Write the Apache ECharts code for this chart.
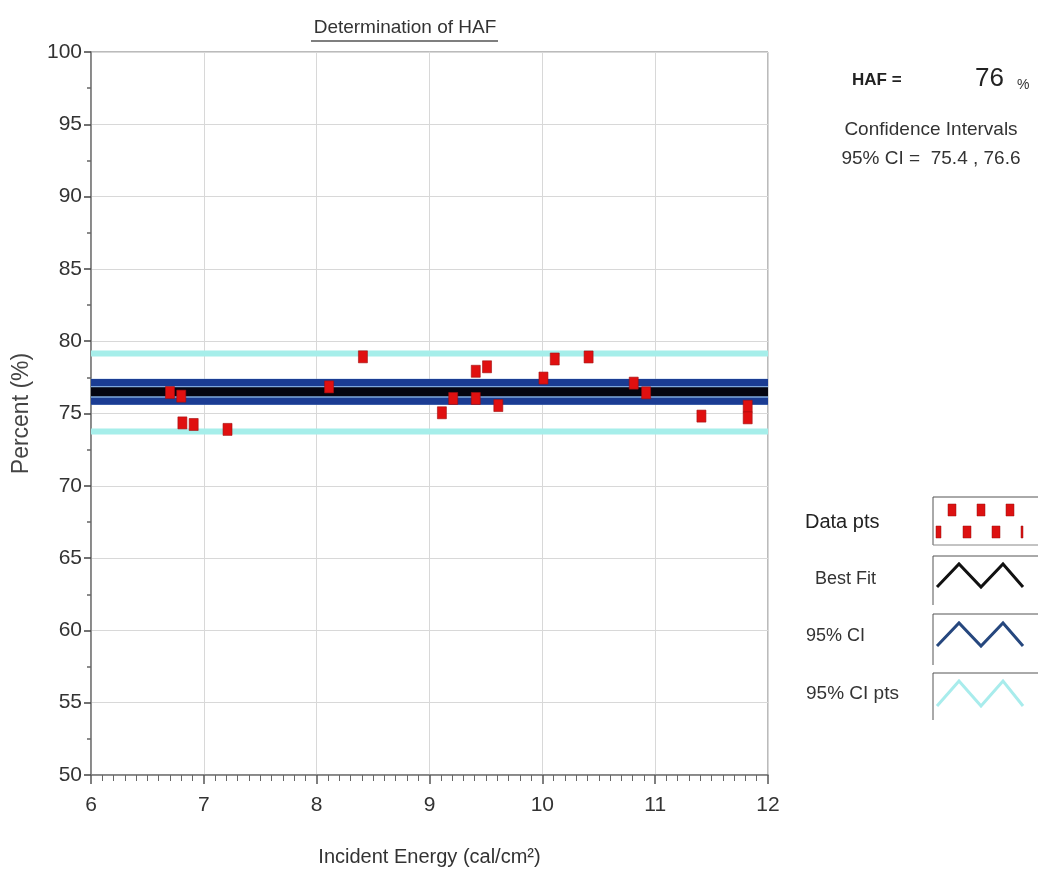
<!DOCTYPE html>
<html>
<head>
<meta charset="utf-8">
<script src="https://cdn.jsdelivr.net/npm/echarts@6/dist/echarts.min.js"></script>
<style>html,body{margin:0;padding:0;background:#fff}#c{width:1038px;height:872px}</style>
</head>
<body>
<div id="c"></div>
<script>
// ---- data ----
const energy  = [6.70, 6.80, 6.81, 6.91, 7.21, 8.11, 8.41, 9.11, 9.21, 9.41, 9.41, 9.51, 9.61, 10.01, 10.11, 10.41, 10.81, 10.92, 11.41, 11.82, 11.82];
const percent = [76.45, 76.2, 74.35, 74.24, 73.9, 76.84, 78.92, 75.05, 76.04, 77.92, 76.04, 78.23, 75.55, 77.45, 78.77, 78.91, 77.1, 76.43, 74.82, 75.5, 74.7];
const bestFit = 76.5;
const ciLower = 75.85, ciUpper = 77.15;
const ciPtsLower = 73.75, ciPtsUpper = 79.15;
const xRange = [6, 12];
const yRange = [50, 100];
const xTicks = [6, 7, 8, 9, 10, 11, 12];
const yTicks = [50, 55, 60, 65, 70, 75, 80, 85, 90, 95, 100];
const titleText = 'Determination of HAF';
const xName = 'Incident Energy (cal/cm\u00B2)';
const yName = 'Percent (%)';
const hafValue = '76';
const ciText = '95% CI =  75.4 , 76.6';
const legendLabels = ['Data pts', 'Best Fit', '95% CI', '95% CI pts'];

const FONT = "'Liberation Sans', Arial, sans-serif";
const hLine = v => [[xRange[0], v], [xRange[1], v]];

const chart = echarts.init(document.getElementById('c'), null, {renderer: 'canvas'});

function zig(x0, yb, yt, color, w) {
  return {
    type: 'polyline',
    shape: {points: [[x0, yb], [x0 + 22, yt], [x0 + 44, yb], [x0 + 66, yt], [x0 + 86, yb]]},
    style: {stroke: color, lineWidth: w, fill: null}
  };
}
function frame(y0, y1, bottom) {
  const els = [
    {type: 'line', shape: {x1: 933, y1: y0, x2: 1038, y2: y0}, style: {stroke: '#555', lineWidth: 1}},
    {type: 'line', shape: {x1: 933, y1: y0, x2: 933, y2: y1}, style: {stroke: '#555', lineWidth: 1}}
  ];
  if (bottom) els.push({type: 'line', shape: {x1: 933, y1: y1, x2: 1038, y2: y1}, style: {stroke: '#888', lineWidth: 1}});
  return els;
}
const sq = (x, y, w) => ({type: 'rect', shape: {x: x, y: y, width: w || 8, height: 12}, style: {fill: '#dd1111', stroke: '#991111', lineWidth: 0.5}});

const option = {
  backgroundColor: '#fff',
  textStyle: {fontFamily: FONT},
  animation: false,
  grid: {left: 91, right: 270, top: 52, bottom: 96, show: true, borderColor: '#777', borderWidth: 1, backgroundColor: 'transparent'},
  xAxis: {
    type: 'value', min: xRange[0], max: xRange[1], interval: 1,
    name: xName, nameLocation: 'middle', nameGap: 72,
    nameTextStyle: {fontSize: 20, color: '#333', fontFamily: FONT},
    axisLine: {show: true, lineStyle: {color: '#777', width: 1.5}},
    axisTick: {show: true, length: 9, lineStyle: {color: '#555', width: 1.5}},
    minorTick: {show: true, splitNumber: 10, length: 6, lineStyle: {color: '#666', width: 1}},
    axisLabel: {fontSize: 21, color: '#333', margin: 20, fontFamily: FONT, formatter: v => xTicks.includes(v) ? String(v) : ''},
    splitLine: {show: true, lineStyle: {color: '#d8d8d8', width: 1}}
  },
  yAxis: {
    type: 'value', min: yRange[0], max: yRange[1], interval: 5,
    name: yName, nameLocation: 'middle', nameGap: 58, nameRotate: 90,
    nameTextStyle: {fontSize: 23, color: '#444', fontFamily: FONT},
    axisLine: {show: true, lineStyle: {color: '#777', width: 1.5}},
    axisTick: {show: true, length: 7, lineStyle: {color: '#444', width: 1.5}},
    minorTick: {show: true, splitNumber: 2, length: 4, lineStyle: {color: '#666', width: 1.5}},
    axisLabel: {fontSize: 21, color: '#333', margin: 9, fontFamily: FONT, formatter: v => yTicks.includes(v) ? String(v) : ''},
    splitLine: {show: true, lineStyle: {color: '#d8d8d8', width: 1}}
  },
  series: [
    {type: 'line', data: hLine(ciPtsUpper), symbol: 'none', lineStyle: {color: '#a6eeea', width: 6}, z: 2},
    {type: 'line', data: hLine(ciPtsLower), symbol: 'none', lineStyle: {color: '#a6eeea', width: 6}, z: 2},
    {type: 'line', data: hLine(bestFit), symbol: 'none', lineStyle: {color: '#7fa8dc', width: 26}, z: 2},
    {type: 'line', data: hLine(ciUpper), symbol: 'none', lineStyle: {color: '#1b3c93', width: 7}, z: 3},
    {type: 'line', data: hLine(ciLower), symbol: 'none', lineStyle: {color: '#1b3c93', width: 7}, z: 3},
    {type: 'line', data: hLine(bestFit), symbol: 'none', lineStyle: {color: '#050510', width: 9}, z: 4},
    {
      type: 'scatter', data: energy.map((e, i) => [e, percent[i]]),
      symbol: 'rect', symbolSize: [9, 12],
      itemStyle: {color: '#e01010', borderColor: '#a01010', borderWidth: 0.6, opacity: 1}, z: 5
    }
  ],
  graphic: [
    {type: 'text', x: 405, y: 18, style: {text: titleText, font: '19px ' + FONT, fill: '#333', textAlign: 'center'}},
    {type: 'line', shape: {x1: 311, y1: 41, x2: 498, y2: 41}, style: {stroke: '#555', lineWidth: 1.5}},
    {type: 'text', x: 852, y: 72, style: {text: 'HAF =', font: 'bold 17px ' + FONT, fill: '#222'}},
    {type: 'text', x: 975, y: 66, style: {text: hafValue, font: '26px ' + FONT, fill: '#222'}},
    {type: 'text', x: 1017, y: 78, style: {text: '%', font: '14px ' + FONT, fill: '#333'}},
    {type: 'text', x: 931, y: 120, style: {text: 'Confidence Intervals', font: '19px ' + FONT, fill: '#333', textAlign: 'center'}},
    {type: 'text', x: 931, y: 149, style: {text: ciText, font: '19px ' + FONT, fill: '#333', textAlign: 'center'}},
    {type: 'text', x: 805, y: 512, style: {text: legendLabels[0], font: '20px ' + FONT, fill: '#222'}},
    {type: 'text', x: 815, y: 570, style: {text: legendLabels[1], font: '18px ' + FONT, fill: '#333'}},
    {type: 'text', x: 806, y: 627, style: {text: legendLabels[2], font: '18px ' + FONT, fill: '#333'}},
    {type: 'text', x: 806, y: 684, style: {text: legendLabels[3], font: '19px ' + FONT, fill: '#333'}},
    ...frame(497, 545, true),
    sq(948, 504), sq(977, 504), sq(1006, 504),
    sq(936, 526, 5), sq(963, 526), sq(992, 526), sq(1021, 526, 2),
    ...frame(556, 605, false),
    zig(937, 587, 564, '#111', 3),
    ...frame(614, 665, false),
    zig(937, 646, 623, '#26477e', 3),
    ...frame(673, 720, false),
    zig(937, 706, 681, '#a8ecec', 3)
  ]
};
chart.setOption(option);
</script>
</body>
</html>
